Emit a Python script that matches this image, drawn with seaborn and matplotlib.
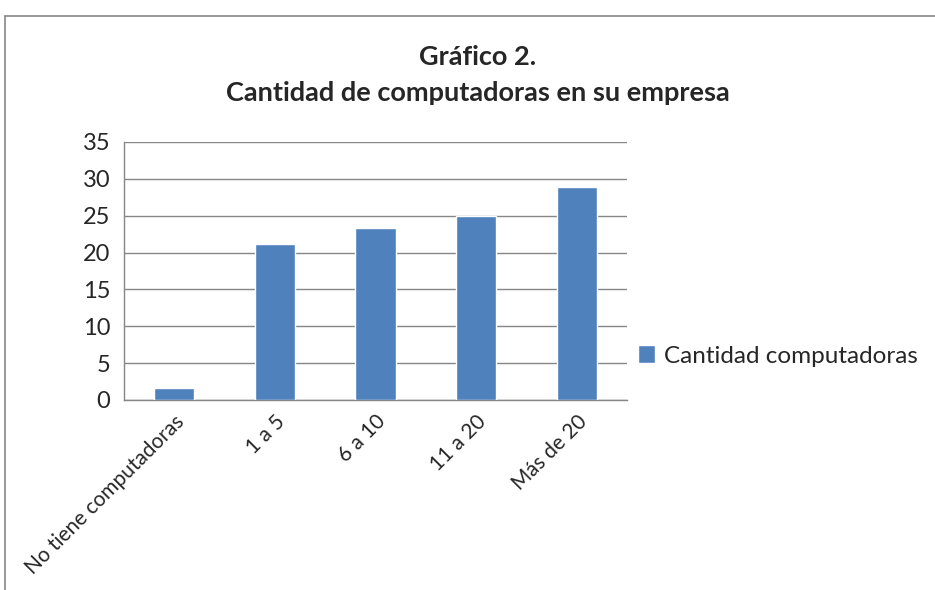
import numpy as np
import pandas as pd
import matplotlib.pyplot as plt
from matplotlib.lines import Line2D
import seaborn as sns

categorias = ["No tiene computadoras", "1 a 5", "6 a 10", "11 a 20", "Más de 20"]
valores = [1.6, 21.1, 23.4, 25.0, 28.9]
serie = "Cantidad computadoras"
yticks = [0, 5, 10, 15, 20, 25, 30, 35]

sns.set_style("white")
plt.rcParams["font.family"] = ["Lato", "DejaVu Sans"]

gris = "#868686"
azul = "#4F81BD"

df = pd.DataFrame({"categoria": categorias, "valor": valores})

fig = plt.figure(figsize=(9.35, 5.90), dpi=100)
ax = fig.add_axes([124 / 935, 1 - 400 / 590, (627 - 124) / 935, (400 - 142) / 590])

sns.barplot(data=df, x="categoria", y="valor", color=azul, width=0.4,
            saturation=1, label=serie, ax=ax, zorder=3)

ax.set_ylim(0, 35)
ax.set_xlim(-0.5, len(categorias) - 0.5)
ax.set_yticks(yticks)
ax.set_yticklabels([str(v) for v in yticks], fontsize=17)
ax.grid(axis="y", color=gris, linewidth=1, zorder=0)
ax.set_axisbelow(True)

# ticks at category boundaries, labels at centers
ax.set_xticks(np.arange(-0.5, len(categorias)), minor=False)
ax.set_xticklabels([""] * (len(categorias) + 1))
ax.set_xticks(np.arange(len(categorias)), minor=True)
ax.set_xticklabels(categorias, minor=True, rotation=45, ha="right",
                   rotation_mode="anchor", fontsize=15)
ax.tick_params(axis="x", which="major", length=5, color=gris, width=1, direction="out")
ax.tick_params(axis="x", which="minor", length=0, pad=8)
ax.tick_params(axis="y", length=6, color=gris, width=1, direction="out", pad=4)
ax.set_xlabel("")
ax.set_ylabel("")

for lado in ["top", "right"]:
    ax.spines[lado].set_visible(False)
for lado in ["left", "bottom"]:
    ax.spines[lado].set_color(gris)
    ax.spines[lado].set_linewidth(1)

fig.text(478 / 935, 1 - 57 / 590, "Gráfico 2.", ha="center", va="center",
         fontsize=19.5, fontweight="bold")
fig.text(478 / 935, 1 - 93 / 590, "Cantidad de computadoras en su empresa",
         ha="center", va="center", fontsize=19.5, fontweight="bold")

leg = ax.legend(loc="center left", bbox_to_anchor=(628 / 935, 1 - 356 / 590),
                bbox_transform=fig.transFigure, frameon=False, fontsize=17.5,
                handlelength=0.7, handleheight=0.7, handletextpad=0.4,
                borderaxespad=0)

# outer chart border (cut on the right and bottom)
fig.add_artist(Line2D([5 / 935, 1], [1 - 16 / 590, 1 - 16 / 590],
                      transform=fig.transFigure, color=gris, linewidth=1.2))
fig.add_artist(Line2D([5 / 935, 5 / 935], [1 - 16 / 590, 0],
                      transform=fig.transFigure, color=gris, linewidth=1.2))

fig.savefig("out.png", dpi=100)
